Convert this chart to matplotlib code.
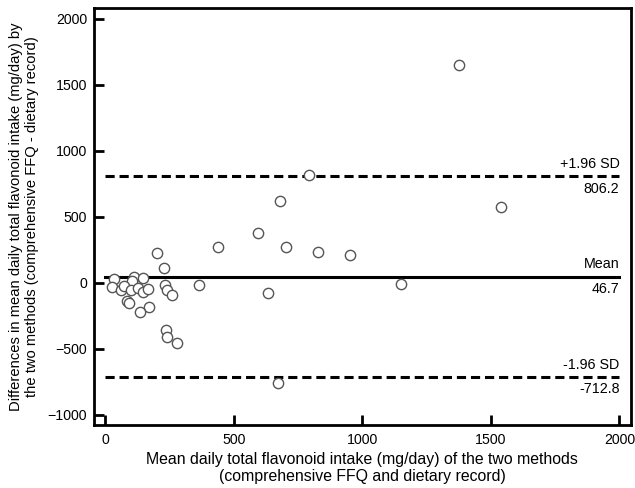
import matplotlib.pyplot as plt

plt.rcParams['font.family'] = ['Liberation Sans', 'DejaVu Sans']

# Bland-Altman data
mean_intake = [1376, 792, 1541, 680, 596, 703, 441, 203, 229, 35, 114, 149, 103,
               28, 61, 74, 99, 127, 146, 168, 233, 241, 261, 367, 634, 84, 94,
               172, 137, 238, 240, 279, 673, 829, 953, 1149]
diff_intake = [1651, 814, 576, 620, 378, 274, 269, 223, 114, 28, 46, 33, 15,
               -30, -58, -28, -58, -41, -68, -51, -15, -53, -89, -15, -81, -135,
               -155, -180, -221, -360, -408, -454, -756, 236, 211, -8]

mean_diff = 46.7
upper_loa = 806.2
lower_loa = -712.8
x_ticks = [0, 500, 1000, 1500, 2000]
y_ticks = [-1000, -500, 0, 500, 1000, 1500, 2000]

fig = plt.figure(figsize=(6.35, 4.88), dpi=100)
ax = fig.add_axes([0.148, 0.129, 0.845, 0.855])

ax.scatter(mean_intake, diff_intake, s=55, facecolors='white',
           edgecolors='#555555', linewidths=1.0, zorder=3)

ax.plot([0, 2000], [mean_diff, mean_diff], color='black', lw=2.2, zorder=2)
for val in (upper_loa, lower_loa):
    ax.plot([0, 2000], [val, val], color='black', lw=2.2,
            linestyle=(0, (3, 1.6)), zorder=2)

labels = [(upper_loa, '+1.96 SD', '806.2'),
          (mean_diff, 'Mean', '46.7'),
          (lower_loa, '-1.96 SD', '-712.8')]
for val, top, bottom in labels:
    ax.text(2000, val + 40, top, ha='right', va='bottom', fontsize=10.3)
    ax.text(2000, val - 40, bottom, ha='right', va='top', fontsize=10.3)

ax.set_xlim(-43, 2043)
ax.set_ylim(-1078, 2083)
ax.set_xticks(x_ticks)
ax.set_yticks(y_ticks)
ax.tick_params(axis='x', direction='in', length=7, width=2, labelsize=10.2, pad=6)
ax.tick_params(axis='y', direction='in', length=7.5, width=2, labelsize=10.2, pad=5)
for sp in ax.spines.values():
    sp.set_linewidth(2)

ax.set_xlabel('Mean daily total flavonoid intake (mg/day) of the two methods\n'
              '(comprehensive FFQ and dietary record)', fontsize=11.4, labelpad=3)
ax.set_ylabel('Differences in mean daily total flavonoid intake (mg/day) by\n'
              'the two methods (comprehensive FFQ - dietary record)', fontsize=10.6,
              labelpad=6)

plt.savefig('out.png', dpi=100)
